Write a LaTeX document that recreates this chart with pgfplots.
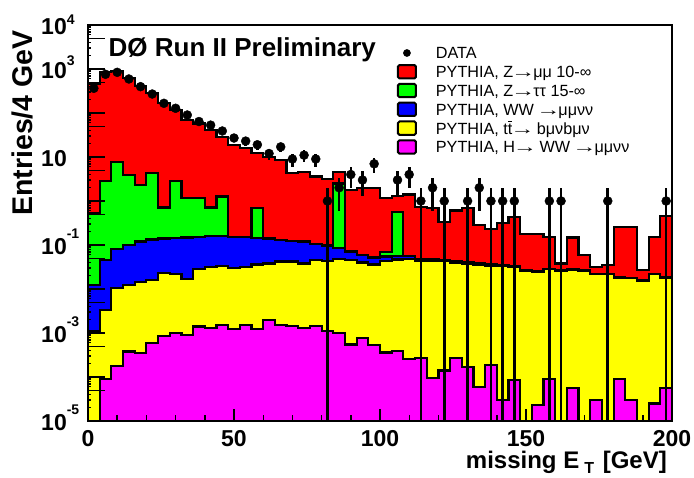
\documentclass[border=0pt]{standalone}
\usepackage{fontspec}
\setmainfont{Liberation Sans}
\usepackage{graphicx}
\usepackage{pgfplots}
\pgfplotsset{compat=1.18}
\definecolor{rred}{RGB}{255,0,0}
\definecolor{rgreen}{RGB}{0,255,0}
\definecolor{rblue}{RGB}{0,0,255}
\definecolor{ryellow}{RGB}{255,255,0}
\definecolor{rmagenta}{RGB}{255,0,255}
\newcommand{\tenpow}[2]{10\rlap{\smash{\raisebox{#2}{\fontsize{14bp}{14bp}\selectfont #1}}}}
\newcommand{\arr}{\kern-2.2bp\scalebox{1.5}[1]{→}\kern-2.2bp}
\newcommand{\ttbar}{t\rlap{\kern0.4bp\raisebox{12.3bp}{\rule{4bp}{1bp}}}t}
\pgfplotsset{legbox/.style={legend image code/.code={\draw[fill=#1, draw=black, line width=2bp, rounded corners=1.5bp] (0bp,-4.2bp) rectangle (18bp,9.1bp);}}}
\begin{document}
\begin{tikzpicture}
\begin{axis}[name=ax,
  scale only axis, width=584bp, height=396bp,
  xmin=0, xmax=200, ymin=1e-5, ymax=1e4, ymode=log,
  enlargelimits=false, axis on top, clip=true,
  tick pos=left, tick align=inside,
  axis line style={line width=2bp},
  every tick/.style={black, line width=1.4bp},
  xtick={0,50,100,150,200}, xticklabels={0,50,100,150,200},
  minor x tick num=4,
  xtick style={/pgfplots/major tick length=12bp, /pgfplots/minor tick length=6bp},
  ytick={1e-5,1e-4,1e-3,1e-2,1e-1,1,10,100,1000,10000},
  yticklabels={{\tenpow{-5}{16.7bp}\hspace{7bp}},{},{\tenpow{-3}{16.7bp}\hspace{7bp}},{},{\tenpow{-1}{16.7bp}\hspace{7bp}},{},{10},{},{\tenpow{3}{13.3bp}},{\tenpow{4}{10.5bp}}},
  ytick style={/pgfplots/major tick length=17bp},
  extra y ticks={5e-5,5e-4,5e-3,5e-2,0.5,5,50,500,5000},
  extra y tick labels={},
  extra y tick style={/pgfplots/major tick length=9bp},
  xticklabel style={anchor=north, inner sep=0pt, yshift=-9bp, font=\bfseries\fontsize{23bp}{23bp}\selectfont},
  yticklabel style={anchor=east, inner sep=0pt, xshift=-21bp, yshift=-1.8bp, font=\bfseries\fontsize{23bp}{23bp}\selectfont},
  xlabel={missing E\kern5bp\raisebox{-5bp}{\fontsize{16bp}{16bp}\selectfont T}\kern2bp\ [GeV]},
  xlabel style={at={(rel axis cs:0.9914,-0.1207)}, anchor=base east, inner sep=0pt, font=\bfseries\fontsize{24bp}{24bp}\selectfont},
  ylabel={Entries/4 GeV},
  ylabel style={at={(rel axis cs:-0.0942,0.987)}, anchor=base east, inner sep=0pt, font=\bfseries\fontsize{28.5bp}{28.5bp}\selectfont},
  legend style={at={(rel axis cs:0.529,0.9452)}, anchor=north west, draw=none, fill=none, inner sep=0pt, outer sep=0pt, column sep=19bp, row sep=0pt,
    font=\fontsize{16.2bp}{19bp}\selectfont,
    nodes={inner xsep=0pt, inner ysep=0pt, text height=12.3bp, text depth=5.1bp}},
  legend cell align=left,
]
\addlegendimage{legend image code/.code={\fill[black] (9bp,2.4bp) circle (3.6bp);}}
\addlegendentry{DATA}
\addlegendimage{legbox=rred}
\addlegendentry{PYTHIA, Z\arr μμ 10-∞}
\addlegendimage{legbox=rgreen}
\addlegendentry{PYTHIA, Z\arr ττ 15-∞}
\addlegendimage{legbox=rblue}
\addlegendentry{PYTHIA, WW \arr μμνν}
\addlegendimage{legbox=ryellow}
\addlegendentry{PYTHIA, \ttbar\arr\ bμνbμν}
\addlegendimage{legbox=rmagenta}
\addlegendentry{PYTHIA, H\arr\ WW \arr μμνν}

% total (Z->mumu on top of all)
\addplot[const plot, fill=rred, draw=black, line width=2.2bp, forget plot] coordinates {
(0,1e-8) (0,450) (4,870) (8,900) (12,630) (16,410) (20,280) (24,166) (28,117) (32,69) (36,58) (40,41) (44,29) (48,19)
(52,16.3) (56,12.1) (60,10.2) (64,8.6) (68,4.3) (72,4.6) (76,3.6) (80,3.16) (84,4.6) (88,1.78) (92,1.94) (96,2.0)
(100,1.17) (104,1.28) (108,1.40) (112,0.74) (116,0.69) (120,0.33) (124,0.61) (128,0.68) (132,0.29) (136,0.235) (140,0.31) (144,0.44)
(148,0.18) (152,0.18) (156,0.15) (160,0.038) (164,0.148) (168,0.06) (172,0.031) (176,0.035) (180,0.26) (184,0.26) (188,0.027) (192,0.149) (196,0.46)
(200,0.46) (200,1e-8)};
% cumulative up to Z->tautau
\addplot[const plot, fill=rgreen, draw=black, line width=2.2bp, forget plot] coordinates {
(0,1e-8) (0,0.52) (4,2.8) (8,7.8) (12,3.9) (16,2.3) (20,4.3) (24,0.71) (28,2.8) (32,1.19) (36,1.19) (40,0.71) (44,1.26) (48,0.155)
(52,0.150) (56,0.70) (60,0.140) (64,0.132) (68,0.125) (72,0.125) (76,0.105) (80,0.097) (84,2.5) (88,0.071) (92,0.059) (96,0.052)
(100,0.070) (104,0.57) (108,0.057) (112,0.048) (116,0.047) (120,0.0456) (124,0.044) (128,0.040) (132,0.038) (136,0.036) (140,0.035) (144,0.033)
(148,0.0265) (152,0.0255) (156,0.029) (160,0.0265) (164,0.028) (168,0.0265) (172,0.0222) (176,0.0222) (180,0.0185) (184,0.018) (188,0.0156) (192,0.0222) (196,0.0185)
(200,0.0185) (200,1e-8)};
% cumulative up to WW
\addplot[const plot, fill=rblue, draw=black, line width=2.2bp, forget plot] coordinates {
(0,1e-8) (0,0.0123) (4,0.046) (8,0.081) (12,0.10) (16,0.12) (20,0.133) (24,0.140) (28,0.145) (32,0.148) (36,0.152) (40,0.160) (44,0.160) (48,0.155)
(52,0.150) (56,0.145) (60,0.140) (64,0.132) (68,0.125) (72,0.115) (76,0.105) (80,0.097) (84,0.087) (88,0.071) (92,0.059) (96,0.052)
(100,0.055) (104,0.057) (108,0.057) (112,0.048) (116,0.047) (120,0.0456) (124,0.044) (128,0.040) (132,0.038) (136,0.036) (140,0.035) (144,0.033)
(148,0.0265) (152,0.0255) (156,0.029) (160,0.0265) (164,0.028) (168,0.0265) (172,0.0222) (176,0.0222) (180,0.0185) (184,0.018) (188,0.0156) (192,0.0222) (196,0.0185)
(200,0.0185) (200,1e-8)};
% cumulative up to ttbar
\addplot[const plot, fill=ryellow, draw=black, line width=2.2bp, forget plot] coordinates {
(0,1e-8) (0,1.1e-3) (4,3.3e-3) (8,0.0105) (12,0.0124) (16,0.0147) (20,0.016) (24,0.023) (28,0.0215) (32,0.017) (36,0.028) (40,0.032) (44,0.034) (48,0.030)
(52,0.032) (56,0.036) (60,0.038) (64,0.042) (68,0.042) (72,0.038) (76,0.046) (80,0.044) (84,0.048) (88,0.046) (92,0.040) (96,0.036)
(100,0.043) (104,0.047) (108,0.048) (112,0.044) (116,0.043) (120,0.043) (124,0.040) (128,0.037) (132,0.036) (136,0.034) (140,0.033) (144,0.031)
(148,0.0257) (152,0.0248) (156,0.028) (160,0.0257) (164,0.027) (168,0.0257) (172,0.0216) (176,0.0216) (180,0.018) (184,0.0175) (188,0.0152) (192,0.0216) (196,0.018)
(200,0.018) (200,1e-8)};
% H -> WW
\addplot[const plot, fill=rmagenta, draw=black, line width=2.2bp, forget plot] coordinates {
(0,1e-8) (0,1e-8) (4,9e-5) (8,1.8e-4) (12,3.8e-4) (16,3.5e-4) (20,5.9e-4) (24,8.7e-4) (28,9.8e-4) (32,8.9e-4) (36,1.4e-3) (40,1.3e-3) (44,1.5e-3) (48,1.23e-3)
(52,1.52e-3) (56,1.23e-3) (60,1.97e-3) (64,1.52e-3) (68,1.47e-3) (72,1.32e-3) (76,1.45e-3) (80,1.11e-3) (84,9.8e-4) (88,5.5e-4) (92,7.8e-4) (96,5.4e-4)
(100,3.6e-4) (104,3.9e-4) (108,2.6e-4) (112,2.65e-4) (116,9.3e-5) (120,1.4e-4) (124,2.7e-4) (128,1.7e-4) (132,6.0e-5) (136,1.85e-4) (140,3.0e-5) (144,8.7e-5)
(148,1e-8) (152,2.3e-5) (156,9e-5) (160,1e-8) (164,5.7e-5) (168,1e-8) (172,3e-5) (176,1e-8) (180,9e-5) (184,3e-5) (188,1e-8) (192,2.5e-5) (196,5.7e-5)
(200,5.7e-5) (200,1e-8)};
% data
\addplot[only marks, mark=*, mark size=4.5bp, black, forget plot,
  error bars/.cd, y dir=both, y explicit, error mark=none, error bar style={line width=2.6bp, black}] coordinates {
(2,364) +- (0,19.08) (6,757) +- (0,27.51) (10,840) +- (0,28.98) (14,593) +- (0,24.35) (18,397) +- (0,19.92)
(22,270) +- (0,16.43) (26,166) +- (0,12.88) (30,128) +- (0,11.31) (34,90) +- (0,9.49) (38,64) +- (0,8)
(42,53) +- (0,7.28) (46,39) +- (0,6.24) (50,27) +- (0,5.20) (54,23) +- (0,4.80) (58,19) +- (0,4.36)
(62,12) +- (0,3.46) (66,17) +- (0,4.12) (70,9) +- (0,3) (74,11) +- (0,3.32) (78,9) +- (0,3)
(82,1) +- (0,0.999999) (86,2) +- (0,1.414) (90,4) +- (0,2) (94,3) +- (0,1.732) (98,7) +- (0,2.646)
(106,3) +- (0,1.732) (110,4) +- (0,2) (114,1) +- (0,0.999999) (118,2) +- (0,1.414) (122,1) +- (0,0.999999)
(130,1) +- (0,0.999999) (134,2) +- (0,1.414) (138,1) +- (0,0.999999) (142,1) +- (0,0.999999) (146,1) +- (0,0.999999)
(158,1) +- (0,0.999999) (162,1) +- (0,0.999999) (178,1) +- (0,0.999999) (198,1) +- (0,0.999999)};
\node[anchor=base west, inner sep=0pt, font=\bfseries\fontsize{26bp}{26bp}\selectfont] at (rel axis cs:0.035,0.920) {DØ Run II Preliminary};
\end{axis}
\pgfresetboundingbox
\useasboundingbox ([xshift=-88bp,yshift=-57bp]ax.south west) rectangle ([xshift=22bp,yshift=25bp]ax.north east);
\end{tikzpicture}
\end{document}
